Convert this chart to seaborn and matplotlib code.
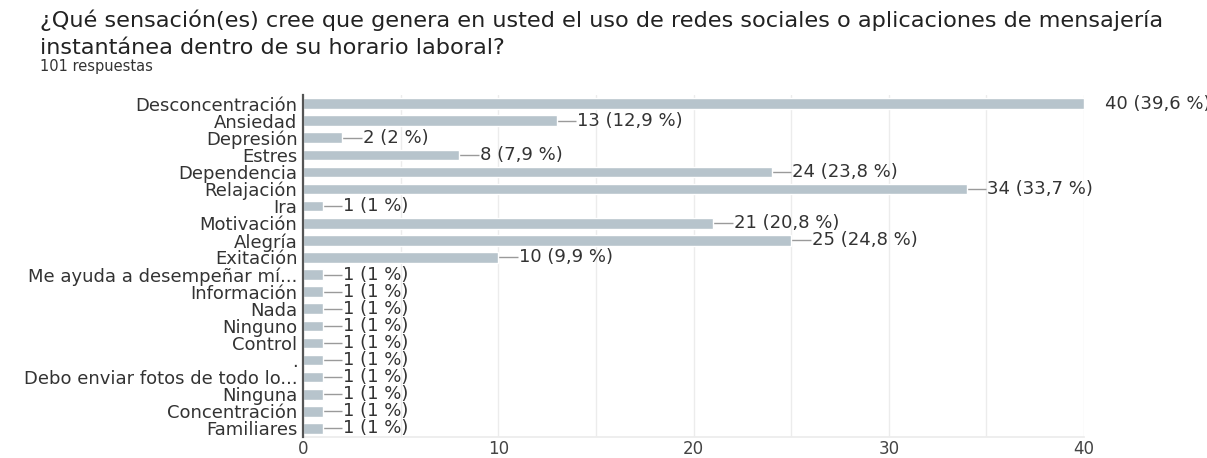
import matplotlib
matplotlib.use("Agg")
import matplotlib.pyplot as plt
import seaborn as sns
import pandas as pd

# Survey answers and their counts
categories = [
    "Desconcentración", "Ansiedad", "Depresión", "Estres", "Dependencia",
    "Relajación", "Ira", "Motivación", "Alegría", "Exitación",
    "Me ayuda a desempeñar mí...", "Información", "Nada", "Ninguno",
    "Control", ".", "Debo enviar fotos de todo lo...", "Ninguna",
    "Concentración", "Familiares",
]
counts = [40, 13, 2, 8, 24, 34, 1, 21, 25, 10, 1, 1, 1, 1, 1, 1, 1, 1, 1, 1]
total_responses = 101

title_lines = [
    "¿Qué sensación(es) cree que genera en usted el uso de redes sociales o aplicaciones de mensajería",
    "instantánea dentro de su horario laboral?",
]
subtitle = f"{total_responses} respuestas"
x_ticks = [0, 10, 20, 30, 40]

BAR = "#b7c4cc"
TEXT = "#333333"
GRID = "#ececec"
LEADER = "#9a9a9a"
LABEL_SIZE = 13


def pct_label(n, total):
    p = round(100 * n / total, 1)
    s = f"{p:.1f}".rstrip("0").rstrip(".").replace(".", ",")
    return f"{n} ({s} %)"


sns.set_theme(style="white")
plt.rcParams["font.family"] = ["DejaVu Sans"]

W, H = 1207, 458
fig = plt.figure(figsize=(W / 100, H / 100), dpi=100)
fig.patch.set_facecolor("white")

ax = fig.add_axes([303 / W, 21 / H, 781 / W, 342 / H])
df = pd.DataFrame({"categoria": categories, "n": counts})
sns.barplot(data=df, x="n", y="categoria", orient="h", color=BAR,
            saturation=1, width=0.62, ax=ax, zorder=2)

ax.set_xlim(0, max(x_ticks))
ax.set_ylim(len(categories) - 0.5, -0.5)
ax.set_xticks(x_ticks)
ax.set_xticks(range(5, max(x_ticks), 10), minor=True)
ax.grid(axis="x", which="both", color=GRID, lw=1, zorder=0)
ax.set_axisbelow(True)
ax.set_xlabel("")
ax.set_ylabel("")

for side in ("top", "right"):
    ax.spines[side].set_visible(False)
ax.spines["bottom"].set_color(GRID)
ax.spines["left"].set_color("#555555")
ax.spines["left"].set_linewidth(1.6)
ax.spines["left"].set_zorder(3)

ax.tick_params(axis="x", which="both", length=0, pad=2.5, labelsize=12, labelcolor="#444444")
ax.tick_params(axis="y", length=0, pad=4, labelsize=LABEL_SIZE, labelcolor=TEXT)

# leader lines and value labels
lead = 1.0
for i, n in enumerate(counts):
    ax.hlines(i, n, n + lead, color=LEADER, lw=1, zorder=1)
    ax.text(n + lead + 0.05, i, pct_label(n, total_responses), va="center", ha="left",
            fontsize=LABEL_SIZE, color=TEXT, clip_on=False)

fig.text(40 / W, 1 - 27 / H, title_lines[0], fontsize=16.1, color="#222222", va="baseline")
fig.text(40 / W, 1 - 54 / H, title_lines[1], fontsize=16.1, color="#222222", va="baseline")
fig.text(40 / W, 1 - 71 / H, subtitle, fontsize=10.5, color=TEXT, va="baseline")

fig.savefig("out.png", dpi=100)
